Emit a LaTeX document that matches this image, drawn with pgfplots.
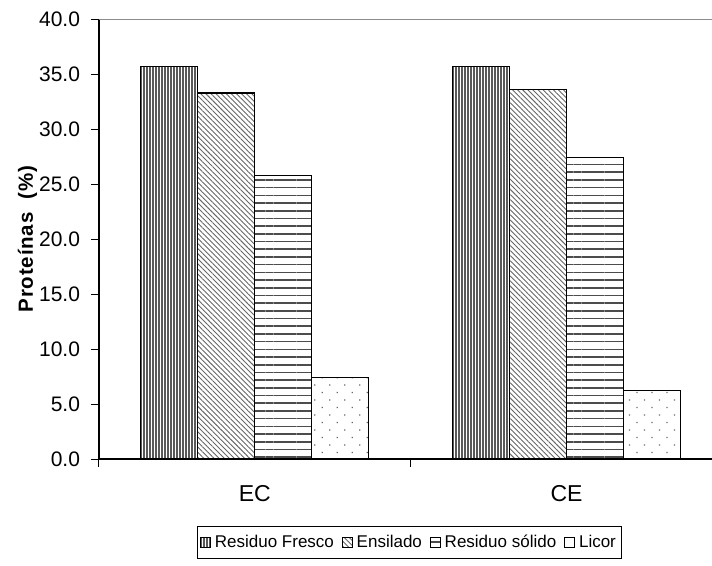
\documentclass[border=0pt]{standalone}
\usepackage{fontspec}
\setmainfont{Liberation Sans}
\usepackage{pgfplots}
\pgfplotsset{compat=1.18}
\usetikzlibrary{patterns.meta}
\pgfplotsset{sqlegend/.style={legend image code/.code={\draw[##1, line width=0.8pt] (0pt,-5pt) rectangle (10pt,5pt);}}}
\begin{document}
\begin{tikzpicture}[x=1pt,y=1pt]
\begin{axis}[
  at={(0,0)}, anchor=south west,
  scale only axis, width=613pt, height=439.7pt,
  ybar=0pt, bar width=0.1829,
  xmin=-0.5, xmax=1.4667, ymin=0, ymax=40,
  enlargelimits=false,
  axis lines*=left,
  axis line style={-, line width=1.1pt, black},
  xtick={-0.5,0.5}, xticklabels={},
  extra x ticks={0,1}, extra x tick labels={EC,CE},
  extra x tick style={major tick length=0pt, tick label style={font=\fontsize{23}{27}\selectfont, yshift=-23pt}},
  ytick={0,5,...,40},
  tick align=outside, major tick length=7.5pt,
  tick style={black, line width=1pt},
  /pgf/number format/assume math mode=true,
  yticklabel shift=8pt,
  yticklabel style={/pgf/number format/fixed, /pgf/number format/fixed zerofill, /pgf/number format/precision=1, font=\fontsize{21}{25}\selectfont},
  ylabel={Proteínas\ \ (\%)},
  ylabel style={at={(axis description cs:-0.1165,0.5)}, anchor=center, font=\bfseries\fontsize{20.5}{24}\selectfont\addfontfeature{LetterSpace=4}},
  legend style={at={(axis description cs:0.5057,-0.1524)}, anchor=north, legend columns=-1, draw=black, line width=0.8pt, font=\fontsize{17}{20}\selectfont, inner xsep=3pt, inner ysep=7pt, /tikz/every even column/.append style={column sep=6pt}, /tikz/every odd column/.append style={column sep=2pt}},
  legend cell align=left,
]
\draw[black!45, line width=1.3pt] (rel axis cs:0,1) -- (rel axis cs:1,1);
\addplot[sqlegend, draw=black, line width=1.2pt, pattern={Lines[angle=90, distance=3pt, line width=1.2pt]}, pattern color=black!65]
  coordinates {(0,35.7) (1,35.7)};
\addplot[sqlegend, draw=black, line width=1.2pt, pattern={Lines[angle=-45, distance=3.6pt, line width=0.9pt]}, pattern color=black!60]
  coordinates {(0,33.3) (1,33.6)};
\addplot[sqlegend, draw=black, line width=1.2pt, pattern={Lines[angle=0, distance=7.7pt, line width=1.6pt]}, pattern color=black!70]
  coordinates {(0,25.8) (1,27.4)};
\addplot[sqlegend, draw=black, line width=1.2pt, pattern={Dots[angle=45, distance=10.6pt, radius=0.9pt]}, pattern color=black!60]
  coordinates {(0,7.4) (1,6.2)};
\legend{Residuo Fresco, Ensilado, Residuo sólido, Licor}
\end{axis}
\pgfresetboundingbox
\path[use as bounding box] (-99,-106) rectangle (613,459);
\end{tikzpicture}
\end{document}
